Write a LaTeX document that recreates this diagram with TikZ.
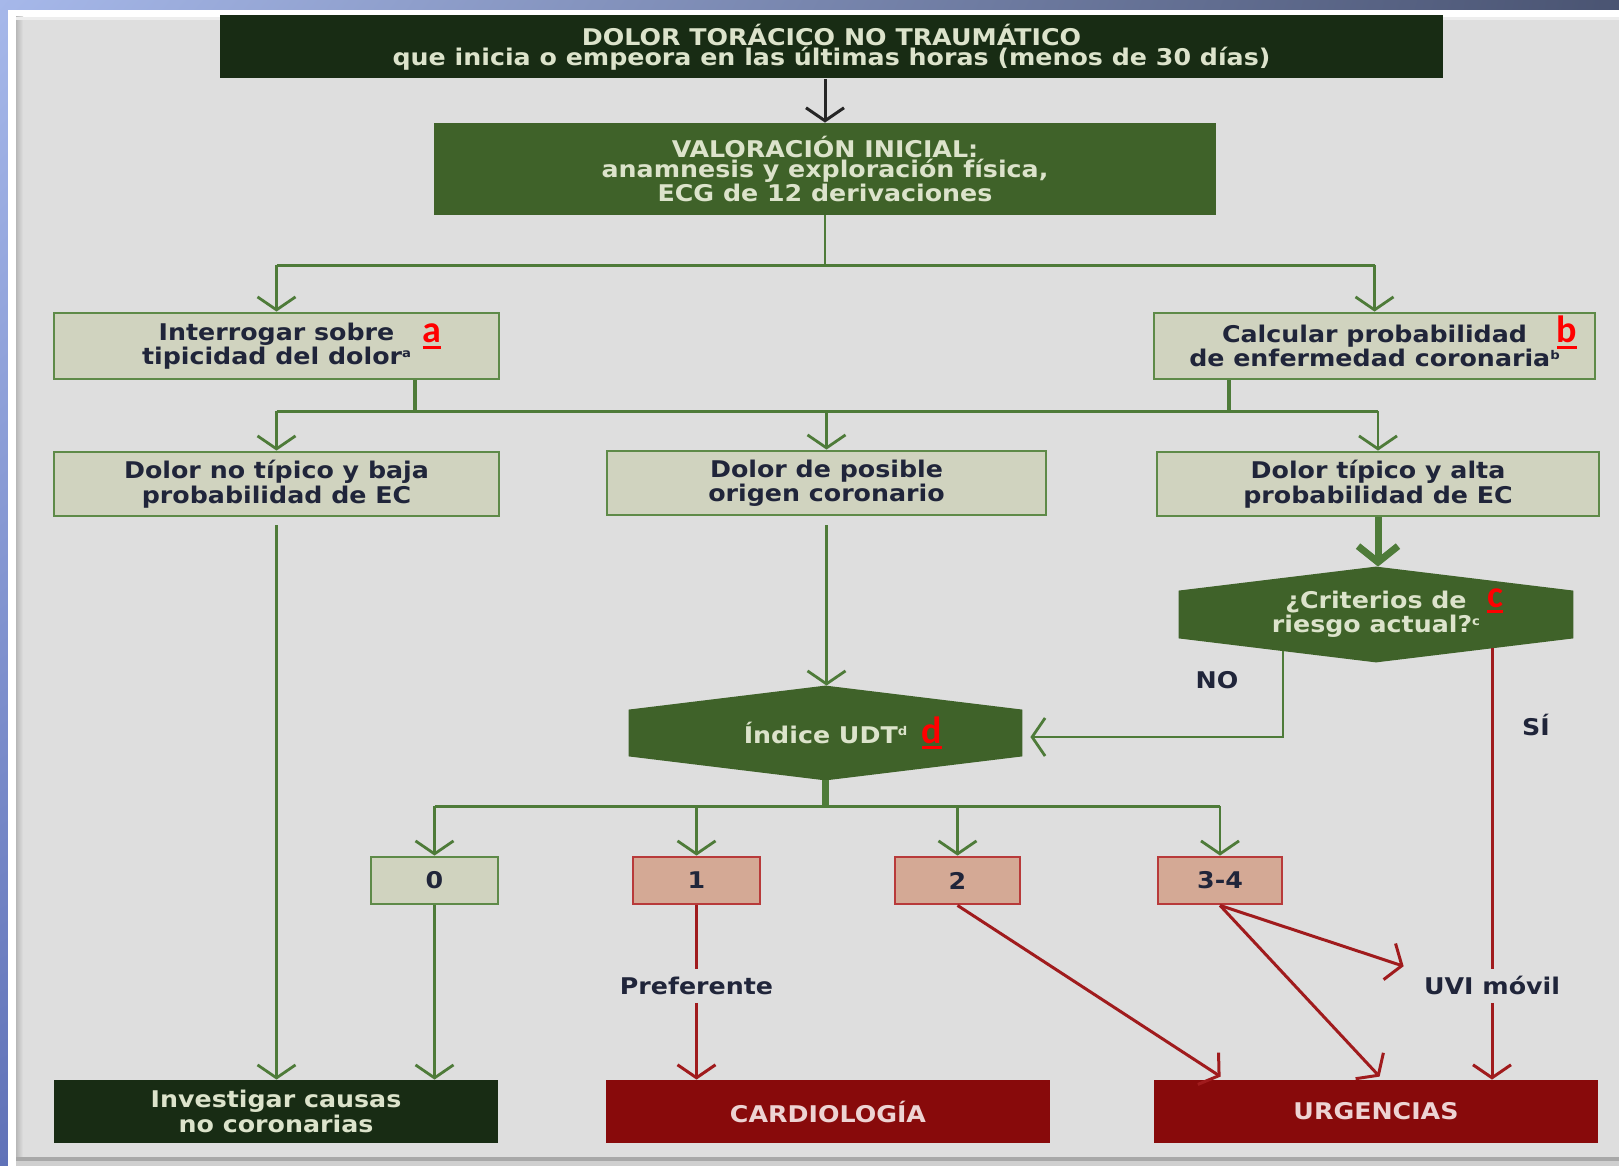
\documentclass[tikz,border=0pt]{standalone}
\usepackage{fontspec}
\setmainfont{DejaVu Sans}[FakeStretch=1.1]
\newfontfamily\tagfont{Carlito}
\usetikzlibrary{arrows.meta,calc,shadings}

\definecolor{dkgreen}{HTML}{182C14}
\definecolor{mdgreen}{HTML}{3F6229}
\definecolor{lngreen}{HTML}{4E7B39}
\definecolor{lbfill}{HTML}{D0D3BF}
\definecolor{lbedge}{HTML}{5E8A48}
\definecolor{dkred}{HTML}{880A0B}
\definecolor{lnred}{HTML}{A01B1D}
\definecolor{salmon}{HTML}{D4A995}
\definecolor{saledge}{HTML}{B83A3A}
\definecolor{ink}{HTML}{20253A}
\definecolor{pale}{HTML}{DCE3CB}
\definecolor{palered}{HTML}{EDD3D3}
\definecolor{panel}{HTML}{DEDEDE}
\definecolor{bgUL}{RGB}{166,184,234}
\definecolor{bgUR}{RGB}{74,84,114}
\definecolor{bgLL}{RGB}{96,114,184}
\definecolor{bgLR}{RGB}{60,70,110}

\newcommand\supx[1]{\raisebox{0.6ex}{\fontsize{6}{6}\selectfont #1}}
\newcommand\tagmark[1]{\setbox0\hbox{#1}\rlap{\rule[-3pt]{\wd0}{1.6pt}}\box0}

% six-cornered outline with pointed top and bottom around a node
\newcommand\hexfill[2]{%
  \fill[mdgreen] ($(#1.north west)+(0,#2)$) -- (#1.north) -- ($(#1.north east)+(0,#2)$)
    -- ($(#1.south east)+(0,-#2)$) -- (#1.south) -- ($(#1.south west)+(0,-#2)$) -- cycle;}

\pgfdeclarelayer{canvas}
\pgfdeclarelayer{shapes}
\pgfsetlayers{canvas,shapes,main}

\tikzset{
  txt/.style={font=\fontsize{11.5}{10.2}\selectfont\bfseries, align=center, inner sep=0pt},
  darkbox/.style={txt, fill=dkgreen, text=pale},
  midbox/.style={txt, fill=mdgreen, text=pale},
  lightbox/.style={txt, fill=lbfill, draw=lbedge, line width=1.4pt, text=ink},
  numbox/.style={txt, fill=salmon, draw=saledge, line width=1.4pt, text=ink},
  redbox/.style={txt, fill=dkred, text=palered},
  hexnode/.style={txt, text=pale},
  lbl/.style={txt, text=ink},
  gap/.style={lbl, inner xsep=0pt, inner ysep=4pt, text height=8.4pt, text depth=0pt},
  tagtxt/.style={inner sep=0pt, anchor=base, text=red, font=\tagfont\bfseries\fontsize{19}{19}\selectfont},
  gline/.style={draw=lngreen, line width=1.4pt},
  gstub/.style={draw=lngreen, line width=2.2pt},
  gthick/.style={draw=lngreen, line width=3.5pt},
  rline/.style={draw=lnred, line width=1.5pt},
  kline/.style={draw=black!85, line width=1.5pt},
  >={Straight Barb[length=6.5pt,width=19pt]},
  bigtip/.style={-{Straight Barb[length=8pt,width=20pt]}},
}

\begin{document}
\begin{tikzpicture}[x=0.5pt,y=-0.5pt]
\useasboundingbox (0,0) rectangle (1619,1166);

% slide backdrop and panel
\begin{pgfonlayer}{canvas}
  \shade[upper left=bgUL, upper right=bgUR, lower left=bgLL, lower right=bgLR]
    (0,0) rectangle (1619,1166);
  \fill[white] (8,10) rectangle (1619,1166);
  \fill[panel] (16,17) rectangle (1619,1157);
  \shade[left color=black!28, right color=panel] (16,17) rectangle (23,1157);
  \fill[white!93!black] (16,17) rectangle (1619,20);
  \fill[black!34] (16,1157) rectangle (1619,1161);
  \fill[black!19] (16,1161) rectangle (1619,1166);
\end{pgfonlayer}

% boxes
\node[darkbox, minimum width=611.5pt, minimum height=31.5pt] (top) at (831.5,47)
  {DOLOR TORÁCICO NO TRAUMÁTICO\\que inicia o empeora en las últimas horas (menos de 30 días)};
\node[midbox, minimum width=391pt, minimum height=46pt] (val) at (825,169)
  {VALORACIÓN INICIAL:\\anamnesis y exploración física,\\ECG de 12 derivaciones};
\node[lightbox, minimum width=222.5pt, minimum height=33pt] (a) at (276.5,346)
  {Interrogar sobre\\tipicidad del dolor\supx{a}};
\node[lightbox, minimum width=220.5pt, minimum height=33pt] (b) at (1374.5,346)
  {Calcular probabilidad\\de enfermedad coronaria\supx{b}};
\node[lightbox, minimum width=222.5pt, minimum height=32pt] (noTip) at (276.5,484)
  {Dolor no típico y baja\\probabilidad de EC};
\node[lightbox, minimum width=219.5pt, minimum height=32pt] (posible) at (826.5,483)
  {Dolor de posible\\origen coronario};
\node[lightbox, minimum width=221pt, minimum height=32pt] (tipico) at (1378,484)
  {Dolor típico y alta\\probabilidad de EC};
\node[hexnode, minimum width=197pt, minimum height=47.5pt] (crit) at (1376,614.5)
  {¿Criterios de\\riesgo actual?\supx{c}};
\node[hexnode, minimum width=196.5pt, minimum height=47pt] (indice) at (825.5,733)
  {Índice UDT\supx{d}};
\begin{pgfonlayer}{shapes}
  \hexfill{crit}{24}
  \hexfill{indice}{24}
\end{pgfonlayer}

\node[lightbox, minimum width=63.5pt, minimum height=23.5pt] (b0) at (434.5,880.5) {0};
\node[numbox, minimum width=63.5pt, minimum height=23.5pt] (b1) at (696.5,880.5) {1};
\node[numbox, minimum width=62.5pt, minimum height=23.5pt] (b2) at (957.5,880.5) {2};
\node[numbox, minimum width=62pt, minimum height=23.5pt] (b34) at (1220,880.5) {3-4};

\node[darkbox, minimum width=222pt, minimum height=31.5pt] (invest) at (276,1111.5)
  {Investigar causas\\no coronarias};
\node[redbox, minimum width=222pt, minimum height=31.5pt] (cardio) at (828,1111.5) {CARDIOLOGÍA};
\node[redbox, minimum width=222pt, minimum height=31.5pt] (urg) at (1376,1111.5) {URGENCIAS};

% path labels
\node[lbl] (no) at (1217,680) {NO};
\node[lbl] (si) at (1536,725) {SÍ};
\node[gap] (pref) at (696.5,986) {Preferente};
\node[gap] (uvi) at (1492,986) {UVI móvil};

% reference marks
\node[tagtxt] (ta) at (432,343) {\tagmark{a}};
\node[tagtxt] (tb) at (1567,343) {\tagmark{b}};
\node[tagtxt] (tc) at (1495,607) {\tagmark{c}};
\node[tagtxt] (td) at (932,743) {\tagmark{d}};

% connectors: upper part
\draw[kline,->] (top.south -| val.north) -- (val.north);
\draw[gline] (val.south) -- ++(0,50) coordinate (j1);
\draw[gline] (a.north |- j1) -- (b.north |- j1);
\draw[gline,->] (a.north |- j1) -- (a.north);
\draw[gline,->] (b.north |- j1) -- (b.north);

\draw[gstub] ($(a.south)+(138.5,0)$) -- ++(0,31) coordinate (j2);
\draw[gstub] ($(b.south)+(-145.5,0)$) -- ++(0,31);
\draw[gline] (noTip.north |- j2) -- (tipico.north |- j2);
\draw[gline,->] (noTip.north |- j2) -- (noTip.north);
\draw[gline,->] (posible.north |- j2) -- (posible.north);
\draw[gline,->] (tipico.north |- j2) -- (tipico.north);

% connectors: middle part
\draw[gline,->,shorten <=4pt] (noTip.south) -- (noTip.south |- invest.north);
\draw[gline,->,shorten <=4.5pt] (posible.south) -- (posible.south |- indice.north);
\draw[gthick,bigtip] (tipico.south) -- (tipico.south |- crit.north);
\draw[gline,->,shorten >=4pt] ($(crit.center)+(-93,36)$) |- ($(indice.east)+(0,4)$);
\draw[rline] ($(crit.center)+(116,33.5)$) -- (uvi.north);
\draw[rline,->] (uvi.south) -- (uvi.south |- urg.north);

% connectors: score branches
\draw[gthick] (indice.south) -- ++(0,26) coordinate (j3);
\draw[gline] (b0.north |- j3) -- (b34.north |- j3);
\draw[gline,->] (b0.north |- j3) -- (b0.north);
\draw[gline,->] (b1.north |- j3) -- (b1.north);
\draw[gline,->] (b2.north |- j3) -- (b2.north);
\draw[gline,->] (b34.north |- j3) -- (b34.north);

\draw[gline,->] (b0.south) -- (b0.south |- invest.north);
\draw[rline] (b1.south) -- (pref.north);
\draw[rline,->] (pref.south) -- (pref.south |- cardio.north);
\draw[rline,->] (b2.south) -- ($(urg.north west)+(67,-3)$);
\draw[rline,->] (b34.south) -- ($(urg.north west)+(226,-3)$);
\draw[rline,->] (b34.south) -- ($(uvi.north west)+(-20,-3)$);
\end{tikzpicture}
\end{document}
